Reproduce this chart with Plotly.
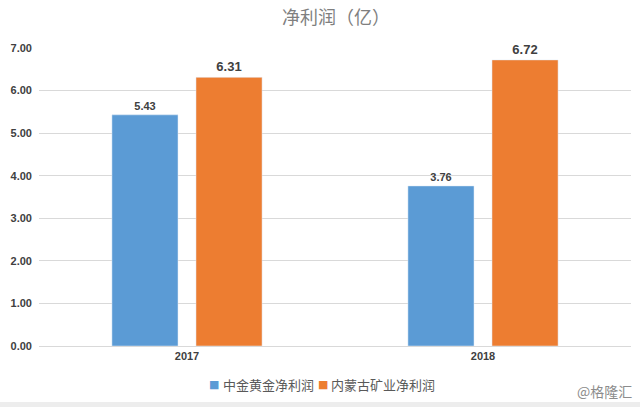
import plotly.graph_objects as go

years = ["2017", "2018"]
zhongjin = [5.43, 3.76]
neimenggu = [6.31, 6.72]
series_names = ["中金黄金净利润", "内蒙古矿业净利润"]
colors = ["#5B9BD5", "#ED7D31"]
y_ticks = [0, 1, 2, 3, 4, 5, 6, 7]

fig = go.Figure()
fig.add_trace(go.Bar(name=series_names[0], x=years, y=zhongjin,
                     marker=dict(color=colors[0]),
                     text=[f"{v:.2f}" for v in zhongjin], textposition="outside",
                     textfont=dict(size=11, color="#404040", family="Liberation Sans", weight="bold"),
                     cliponaxis=False))
fig.add_trace(go.Bar(name=series_names[1], x=years, y=neimenggu,
                     marker=dict(color=colors[1]),
                     text=[f"{v:.2f}" for v in neimenggu], textposition="outside",
                     textfont=dict(size=13, color="#404040", family="Liberation Sans", weight="bold"),
                     cliponaxis=False))

fig.update_layout(
    width=640, height=407,
    margin=dict(l=39, r=9, t=48, b=61, autoexpand=False),
    paper_bgcolor="white", plot_bgcolor="white",
    barmode="group", bargap=0.432, bargroupgap=0.214,
    showlegend=False,
    title=dict(text="净利润（亿）", x=0.525, y=0.956, xanchor="center", yanchor="middle",
               font=dict(size=18, color="#7F7F7F", family="Noto Sans CJK SC")),
    font=dict(family="Liberation Sans", color="#595959"),
    xaxis=dict(showgrid=False, ticks="", showline=True, linecolor="#D9D9D9",
               tickfont=dict(size=11, color="#404040", weight="bold")),
    yaxis=dict(range=[0, 7], tickvals=y_ticks, tickformat=".2f",
               showgrid=True, gridcolor="#D9D9D9", zeroline=False,
               tickfont=dict(size=11, color="#404040", weight="bold"), ticklabelstandoff=6),
)
fig.update_traces(textangle=0)

# legend drawn as text so the squares sit right next to the labels
square_x = [0.284, 0.468]
label_x = [0.307, 0.490]
for name, color, sx, lx in zip(series_names, colors, square_x, label_x):
    fig.add_annotation(text="■", xref="paper", yref="paper", x=sx, y=-0.13,
                       xanchor="left", yanchor="middle", showarrow=False,
                       font=dict(size=11, color=color, family="DejaVu Sans"))
    fig.add_annotation(text=name, xref="paper", yref="paper", x=lx, y=-0.13,
                       xanchor="left", yanchor="middle", showarrow=False,
                       font=dict(size=13, color="#595959", family="Noto Sans CJK SC"))

fig.add_annotation(text="@格隆汇", xref="paper", yref="paper", x=1.005, y=-0.152,
                   xanchor="right", yanchor="middle", showarrow=False,
                   font=dict(size=14, color="#8C8C8C", family="Noto Sans CJK SC"))

# thin grey frame strips at the top and bottom edges of the screenshot
fig.add_shape(type="rect", xref="paper", yref="paper", x0=-0.07, x1=1.02,
              y0=-0.188, y1=-0.21, fillcolor="#EDEDED", line=dict(width=0), layer="below")
fig.add_shape(type="rect", xref="paper", yref="paper", x0=-0.07, x1=1.02,
              y0=1.161, y1=1.17, fillcolor="#E6E6E6", line=dict(width=0), layer="below")

fig.write_html("out.html", config={"displayModeBar": False},
               post_script="document.body.style.margin='0';")
